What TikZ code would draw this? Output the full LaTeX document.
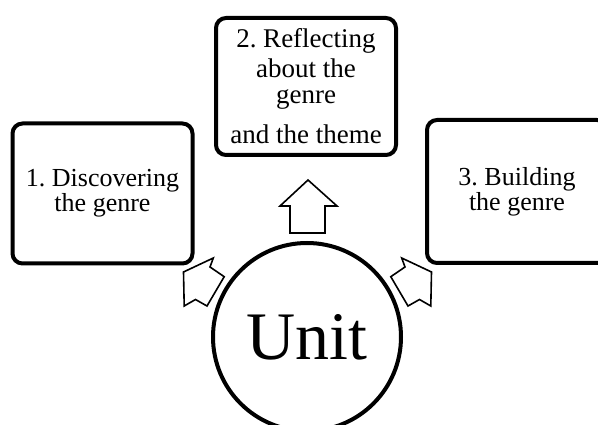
\documentclass[tikz,border=0pt]{standalone}
\usepackage{fontspec}
\setmainfont{Liberation Serif}
\usetikzlibrary{positioning}
\frenchspacing

\tikzset{
  stagebox/.style={draw, line width=4pt, rounded corners=10pt, align=center,
    inner sep=0pt, minimum width=180pt, minimum height=140pt,
    font=\fontsize{26}{22}\selectfont},
  hub/.style={circle, draw, line width=4pt, inner sep=0pt, minimum size=188pt,
    font=\fontsize{68}{68}\selectfont},
  blockarrow/.style={draw, line width=1.6pt, line join=miter, fill=white}
}

\begin{document}
\begin{tikzpicture}[x=1pt,y=-1pt]
\useasboundingbox (0,0) rectangle (598,425);
\node[hub] (unit) at (307,337) {Unit};
\node[stagebox] (discover) at (102.5,193.5) {1. Discovering\\the genre};
\node[stagebox, minimum height=137pt, font=\fontsize{27}{26}\selectfont] (reflect) at (306,86.5)
  {2. Reflecting\\[4pt]about the\\[0pt]genre\\[14pt]and the theme};
\node[stagebox, minimum height=143pt] (build) at (517,191.5) {3. Building\\the genre};
% block arrows from the unit
\draw[blockarrow] (308,180) -- (337,206) -- (325,206) -- (325,233) -- (290,233) -- (290,206) -- (280,206) -- cycle;
\draw[blockarrow] (213.3,258) -- (210,267) -- (224.2,276.7) -- (207,306) -- (195.5,299.5) -- (184.2,306) -- (183.5,272) -- cycle;
\draw[blockarrow] (401.7,258) -- (405,267) -- (390.8,276.7) -- (408,306) -- (419.5,299.5) -- (430.8,306) -- (431.5,272) -- cycle;
\end{tikzpicture}
\end{document}
